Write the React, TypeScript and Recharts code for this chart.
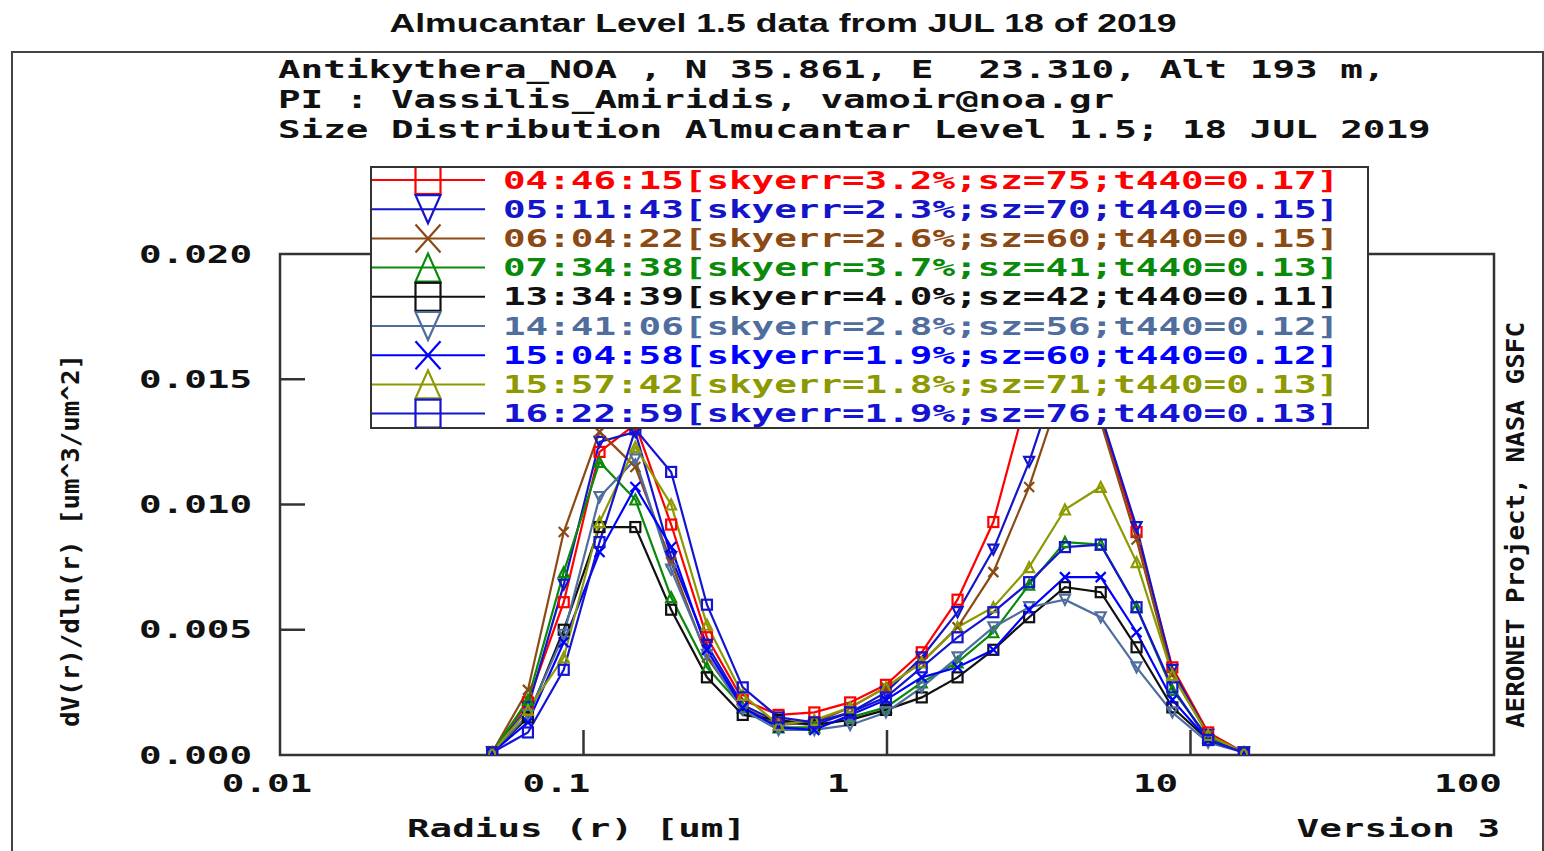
import React from 'react';
import { LineChart, Line, XAxis, YAxis, Legend, ReferenceArea } from 'recharts';

// AERONET V3 size distribution radius bins [um]
const radii = [
  0.05, 0.065604, 0.086077, 0.112939, 0.148184, 0.194429, 0.255105, 0.334716, 0.439173, 0.576227, 0.756052,
  0.991996, 1.301571, 1.707757, 2.240702, 2.939966, 3.857452, 5.06126, 6.640745, 8.713145, 11.432287, 15.0,
];

const times = ['04:46:15', '05:11:43', '06:04:22', '07:34:38', '13:34:39', '14:41:06', '15:04:58', '15:57:42', '16:22:59'];
const skyErr = [3.2, 2.3, 2.6, 3.7, 4.0, 2.8, 1.9, 1.8, 1.9];
const solarZenith = [75, 70, 60, 41, 42, 56, 60, 71, 76];
const aod440 = [0.17, 0.15, 0.15, 0.13, 0.11, 0.12, 0.12, 0.13, 0.13];

// dV(r)/dln(r) per retrieval
const dv0446 = [0.00012, 0.0021, 0.0061, 0.0121, 0.0132, 0.0092, 0.0047, 0.0022, 0.0016, 0.0017, 0.0021, 0.0028, 0.0041, 0.0062, 0.0093, 0.0146, 0.0172, 0.0135, 0.0089, 0.0035, 0.0009, 0.0001];
const dv0511 = [0.0001, 0.0019, 0.0068, 0.0125, 0.0129, 0.0079, 0.0044, 0.002, 0.0013, 0.0012, 0.0017, 0.0025, 0.0039, 0.0057, 0.0082, 0.0117, 0.016, 0.0136, 0.0091, 0.0034, 0.0008, 0.0001];
const dv0604 = [0.0001, 0.0026, 0.0089, 0.0129, 0.0115, 0.0077, 0.0039, 0.0019, 0.0012, 0.0013, 0.0019, 0.0027, 0.0037, 0.0051, 0.0073, 0.0107, 0.015, 0.0133, 0.0086, 0.0032, 0.0008, 0.0001];
const dv0734 = [0.0001, 0.0022, 0.0073, 0.0117, 0.0102, 0.0063, 0.0035, 0.0019, 0.0011, 0.0011, 0.0015, 0.0019, 0.0029, 0.0037, 0.0049, 0.0068, 0.0085, 0.0084, 0.0059, 0.0026, 0.0007, 0.0001];
const dv1334 = [0.0001, 0.0015, 0.005, 0.0091, 0.0091, 0.0058, 0.0031, 0.0016, 0.0014, 0.0012, 0.0014, 0.0018, 0.0023, 0.0031, 0.0042, 0.0055, 0.0067, 0.0065, 0.0043, 0.0019, 0.0006, 0.0001];
const dv1441 = [0.0001, 0.0016, 0.0048, 0.0103, 0.0118, 0.0074, 0.004, 0.0018, 0.001, 0.001, 0.0012, 0.0017, 0.0027, 0.0039, 0.0051, 0.0059, 0.0062, 0.0055, 0.0035, 0.0017, 0.0005, 0.0001];
const dv1504 = [0.0001, 0.0013, 0.0045, 0.0081, 0.0107, 0.0083, 0.0042, 0.0019, 0.0011, 0.001, 0.0016, 0.0022, 0.0031, 0.0035, 0.0042, 0.0058, 0.0071, 0.0071, 0.0049, 0.0022, 0.0006, 0.0001];
const dv1557 = [0.0001, 0.0018, 0.0039, 0.0093, 0.0123, 0.01, 0.0052, 0.0024, 0.0012, 0.0014, 0.0019, 0.0027, 0.0037, 0.0051, 0.0059, 0.0075, 0.0098, 0.0107, 0.0077, 0.0032, 0.0008, 0.0001];
const dv1622 = [0.0001, 0.0009, 0.0034, 0.0085, 0.013, 0.0113, 0.006, 0.0027, 0.0015, 0.0013, 0.0017, 0.0023, 0.0035, 0.0047, 0.0057, 0.0069, 0.0083, 0.0084, 0.0059, 0.0027, 0.0006, 0.0001];

const volumes = [dv0446, dv0511, dv0604, dv0734, dv1334, dv1441, dv1504, dv1557, dv1622];

const xTicks = [0.01, 0.1, 1, 10, 100];
const xTickLabels = ['0.01', '0.1', '1', '10', '100'];
const yTicks = [0, 0.005, 0.01, 0.015, 0.02];
const yTickLabels = ['0.000', '0.005', '0.010', '0.015', '0.020'];

const colors = ['#ff0000', '#1414c8', '#8b4a14', '#0a8a0a', '#111111', '#4f6e9e', '#0000ff', '#8c9900', '#1414d2'];
const shapes = ['square', 'down', 'cross', 'up', 'square', 'down', 'cross', 'up', 'square'];

const labels = times.map(
  (t, i) => `${t}[skyerr=${skyErr[i].toFixed(1)}%;sz=${solarZenith[i]};t440=${aod440[i].toFixed(2)}]`
);

const rows = radii.map((r, i) => {
  const row: Record<string, number> = { r };
  volumes.forEach((v, s) => {
    row[`s${s}`] = v[i];
  });
  return row;
});

const MONO = '"DejaVu Sans Mono", "Liberation Mono", monospace';
const ADV = 22.6;
const INK = '#111';
const FRAME = '#333';

// wide bitmap-style text: every glyph stretched to a fixed advance
function Pix({ x, y, text, fill = INK, anchor = 'start', adv = ADV, size = 24 }: any) {
  const len = text.length * adv;
  const x0 = anchor === 'end' ? x - len : anchor === 'middle' ? x - len / 2 : x;
  return (
    <text
      x={x0}
      y={y}
      fill={fill}
      fontFamily={MONO}
      fontWeight="bold"
      fontSize={size}
      textLength={len}
      lengthAdjust="spacingAndGlyphs"
      style={{ whiteSpace: 'pre' }}
    >
      {text}
    </text>
  );
}

function Marker({ shape, cx, cy, w, h, color, sw }: any) {
  const hw = w / 2;
  const hh = h / 2;
  const common = { fill: 'none', stroke: color, strokeWidth: sw };
  if (shape === 'square') return <rect x={cx - hw} y={cy - hh} width={w} height={h} {...common} />;
  if (shape === 'down')
    return <polygon points={`${cx - hw},${cy - hh} ${cx + hw},${cy - hh} ${cx},${cy + hh}`} {...common} />;
  if (shape === 'up')
    return <polygon points={`${cx - hw},${cy + hh} ${cx + hw},${cy + hh} ${cx},${cy - hh}`} {...common} />;
  return (
    <g {...common}>
      <line x1={cx - hw} y1={cy - hh} x2={cx + hw} y2={cy + hh} />
      <line x1={cx - hw} y1={cy + hh} x2={cx + hw} y2={cy - hh} />
    </g>
  );
}

const xLabelShift = [-13, -27, -49, -35, -26];

function XTick({ x, y, payload }: any) {
  const i = xTicks.indexOf(payload.value);
  const inner = i > 0 && i < xTicks.length - 1;
  return (
    <g>
      {inner && <line x1={x} x2={x} y1={y} y2={y - 25} stroke={FRAME} strokeWidth={2.5} />}
      <Pix x={x + xLabelShift[i]} y={y + 37} text={xTickLabels[i]} anchor="middle" />
    </g>
  );
}

function YTick({ x, y, payload }: any) {
  const i = yTicks.indexOf(payload.value);
  const inner = i > 0 && i < yTicks.length - 1;
  return (
    <g>
      {inner && <line x1={x} x2={x + 25} y1={y} y2={y} stroke={FRAME} strokeWidth={2.5} />}
      <Pix x={x - 28} y={y + 8.5} text={yTickLabels[i]} anchor="end" />
    </g>
  );
}

function renderDot(s: number) {
  return (props: any) => {
    const { cx, cy, index } = props;
    if (cx == null || cy == null) return <g key={`d${s}-${index}`} />;
    return (
      <Marker key={`d${s}-${index}`} shape={shapes[s]} cx={cx} cy={cy} w={10} h={10} color={colors[s]} sw={2.2} />
    );
  };
}

function LegendBox() {
  const rowGap = 29.2;
  return (
    <div
      style={{
        width: 999,
        height: 263,
        background: '#fff',
        border: `2px solid ${FRAME}`,
        boxSizing: 'border-box',
        overflow: 'hidden',
      }}
    >
      <svg width={995} height={259} style={{ display: 'block' }}>
        {labels.map((lab, i) => {
          const cy = 12 + i * rowGap;
          return (
            <g key={lab}>
              <line x1={0} x2={113} y1={cy} y2={cy} stroke={colors[i]} strokeWidth={2} />
              <Marker shape={shapes[i]} cx={56} cy={cy} w={25} h={28} color={colors[i]} sw={2.2} />
              <Pix x={131} y={cy + 8.5} text={lab} fill={colors[i]} />
            </g>
          );
        })}
      </svg>
    </div>
  );
}

export default function App() {
  return (
    <div style={{ position: 'absolute', left: 0, top: 0, width: 1544, height: 851, background: '#fff' }}>
      <LineChart width={1544} height={851} data={rows} margin={{ top: 254, right: 50, bottom: 56, left: 240 }}>
        <XAxis
          dataKey="r"
          type="number"
          scale="log"
          domain={[0.01, 100]}
          ticks={xTicks}
          interval={0}
          allowDataOverflow
          axisLine={false}
          tickLine={false}
          tickSize={0}
          tickMargin={0}
          height={40}
          tick={<XTick />}
        />
        <YAxis
          type="number"
          domain={[0, 0.02]}
          ticks={yTicks}
          interval={0}
          allowDataOverflow
          axisLine={false}
          tickLine={false}
          tickSize={0}
          tickMargin={0}
          width={40}
          tick={<YTick />}
        />
        <ReferenceArea
          x1={0.01}
          x2={100}
          y1={0}
          y2={0.02}
          fill="none"
          fillOpacity={0}
          stroke={FRAME}
          strokeWidth={2.5}
          ifOverflow="visible"
        />
        {volumes.map((_, s) => (
          <Line
            key={`s${s}`}
            dataKey={`s${s}`}
            name={labels[s]}
            type="linear"
            stroke={colors[s]}
            strokeWidth={2.2}
            dot={renderDot(s)}
            activeDot={false}
            isAnimationActive={false}
          />
        ))}
        <Legend
          layout="horizontal"
          verticalAlign="middle"
          align="center"
          content={<LegendBox />}
          wrapperStyle={{ left: 370, top: 166, width: 999, height: 263 }}
        />
      </LineChart>
      <svg
        width={1544}
        height={851}
        style={{ position: 'absolute', left: 0, top: 0, pointerEvents: 'none' }}
      >
        <text
          x={783}
          y={32}
          textAnchor="middle"
          fontFamily="Liberation Sans, Arial, sans-serif"
          fontWeight="bold"
          fontSize={25}
          fill={INK}
          textLength={787}
          lengthAdjust="spacingAndGlyphs"
        >
          Almucantar Level 1.5 data from JUL 18 of 2019
        </text>
        <rect x={12} y={52} width={1531} height={830} fill="none" stroke="#444" strokeWidth={2} />
        <Pix x={278} y={78} text="Antikythera_NOA , N 35.861, E  23.310, Alt 193 m," />
        <Pix x={278} y={108} text="PI : Vassilis_Amiridis, vamoir@noa.gr" />
        <Pix x={278} y={138} text="Size Distribution Almucantar Level 1.5; 18 JUL 2019" />
        <Pix x={407} y={837} text="Radius (r) [um]" />
        <Pix x={1500} y={837} text="Version 3" anchor="end" />
        <g transform="translate(79,541) rotate(-90)">
          <text
            x={-186}
            y={0}
            fontFamily={MONO}
            fontWeight="bold"
            fontSize={24}
            fill={INK}
            textLength={373}
            lengthAdjust="spacingAndGlyphs"
          >
            dV(r)/dln(r) [um^3/um^2]
          </text>
        </g>
        <g transform="translate(1524,525) rotate(-90)">
          <text
            x={-203}
            y={0}
            fontFamily={MONO}
            fontWeight="bold"
            fontSize={24}
            fill={INK}
            textLength={406}
            lengthAdjust="spacingAndGlyphs"
          >
            AERONET Project, NASA GSFC
          </text>
        </g>
      </svg>
    </div>
  );
}
